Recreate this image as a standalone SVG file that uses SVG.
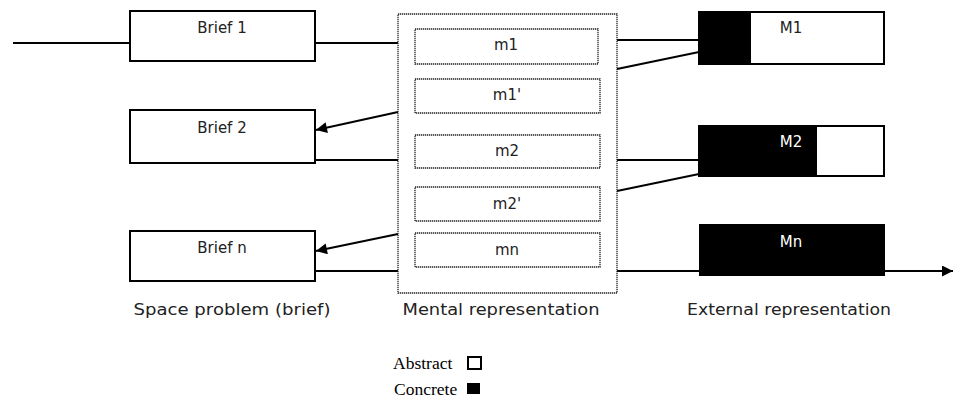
<svg xmlns="http://www.w3.org/2000/svg" width="959" height="399" viewBox="0 0 959 399">
<style>
.box{fill:#fff;stroke:#000;stroke-width:2}
.dot{fill:#fff;stroke:#222;stroke-width:1.3;stroke-dasharray:1.3 0.7}
.ln{fill:none;stroke:#000;stroke-width:2}
.t{font-family:"DejaVu Sans",sans-serif;font-size:15px;fill:#222;text-anchor:middle}
.tw{font-family:"DejaVu Sans",sans-serif;font-size:15px;fill:#fff;text-anchor:middle}
.cap{font-family:"DejaVu Sans",sans-serif;font-size:16.5px;fill:#222;text-anchor:middle}
.leg{font-family:"Liberation Serif",serif;font-size:17.5px;fill:#000}
</style>
<defs>
<marker id="ah" viewBox="0 0 10 10" refX="10" refY="5" markerWidth="9" markerHeight="5.5" markerUnits="strokeWidth" orient="auto">
<path d="M0,0 L10,5 L0,10 Z" fill="#000"/>
</marker>
</defs>
<g id="connectors">
<line class="ln" x1="13" y1="43" x2="130" y2="43"/>
<line class="ln" x1="315" y1="43" x2="398" y2="43"/>
<line class="ln" x1="398" y1="112" x2="316" y2="130" marker-end="url(#ah)"/>
<line class="ln" x1="315" y1="160" x2="415" y2="160"/>
<line class="ln" x1="398" y1="234" x2="316" y2="251" marker-end="url(#ah)"/>
<line class="ln" x1="315" y1="271" x2="398" y2="271"/>
<line class="ln" x1="617" y1="40" x2="699" y2="40"/>
<line class="ln" x1="617" y1="69" x2="699" y2="52"/>
<line class="ln" x1="600" y1="160" x2="699" y2="160"/>
<line class="ln" x1="617" y1="191" x2="699" y2="174"/>
<line class="ln" x1="617" y1="271" x2="953" y2="271" marker-end="url(#ah)"/>
</g>
<g id="brief1">
<rect class="box" x="130" y="11" width="185" height="50"/>
<text class="t" x="222" y="33">Brief 1</text>
</g>
<g id="brief2">
<rect class="box" x="130" y="110" width="185" height="53"/>
<text class="t" x="222" y="133">Brief 2</text>
</g>
<g id="briefn">
<rect class="box" x="130" y="231" width="185" height="50"/>
<text class="t" x="222" y="253">Brief n</text>
</g>
<g id="mental">
<rect class="dot" x="398" y="14" width="219" height="279"/>
</g>
<g id="m1">
<rect class="dot" x="415" y="29" width="183" height="35"/>
<text class="t" x="506" y="50">m1</text>
</g>
<g id="m1p">
<rect class="dot" x="415" y="79" width="185" height="34"/>
<text class="t" x="507" y="100">m1'</text>
</g>
<g id="m2">
<rect class="dot" x="415" y="135" width="185" height="33"/>
<text class="t" x="507" y="156">m2</text>
</g>
<g id="m2p">
<rect class="dot" x="415" y="187" width="185" height="34"/>
<text class="t" x="507" y="209">m2'</text>
</g>
<g id="mn">
<rect class="dot" x="415" y="233" width="185" height="34"/>
<text class="t" x="507" y="255">mn</text>
</g>
<g id="M1">
<rect class="box" x="699" y="12" width="185" height="52"/>
<rect x="699" y="11" width="52" height="54" fill="#000"/>
<text class="t" x="791" y="33">M1</text>
</g>
<g id="M2">
<rect class="box" x="699" y="126" width="185" height="50"/>
<rect x="699" y="125" width="118" height="52" fill="#000"/>
<text class="tw" x="791" y="147">M2</text>
</g>
<g id="Mn">
<rect x="699" y="224" width="186" height="52" fill="#000"/>
<text class="tw" x="791" y="247">Mn</text>
</g>
<g id="labels">
<text class="cap" x="232" y="315" textLength="197" lengthAdjust="spacingAndGlyphs">Space problem (brief)</text>
<text class="cap" x="501" y="315" textLength="197" lengthAdjust="spacingAndGlyphs">Mental representation</text>
<text class="cap" x="789" y="315" textLength="204" lengthAdjust="spacingAndGlyphs">External representation</text>
</g>
<g id="legend">
<text class="leg" x="393" y="369">Abstract</text>
<rect x="468" y="357" width="13" height="12" fill="#fff" stroke="#000" stroke-width="2"/>
<text class="leg" x="394" y="395">Concrete</text>
<rect x="467" y="383" width="13" height="11" fill="#000"/>
</g>
</svg>
